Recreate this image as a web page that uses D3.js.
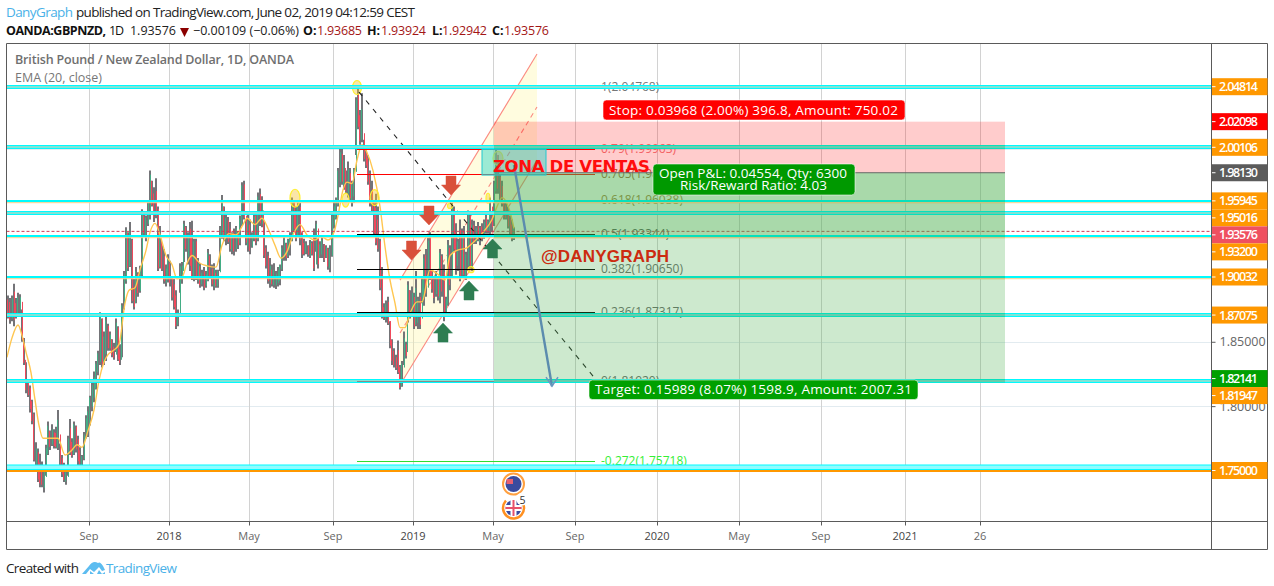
<!DOCTYPE html>
<html><head><meta charset="utf-8">
<script src="https://cdn.jsdelivr.net/npm/d3@7"></script>
<style>html,body{margin:0;background:#fff}svg{display:block}text{font-family:"Open Sans",sans-serif}</style>
</head><body><svg id="c" width="1274" height="586"></svg>
<script>
const highs=[1.886,1.884,1.886,1.895,1.884,1.888,1.887,1.875,1.853,1.834,1.821,1.816,1.805,1.795,1.772,1.767,1.763,1.757,1.753,1.770,1.788,
1.781,1.786,1.782,1.784,1.797,1.771,1.762,1.756,1.752,1.777,1.790,1.775,1.788,1.785,1.777,1.768,1.762,1.780,1.793,
1.800,1.808,1.819,1.827,1.835,1.843,1.873,1.868,1.858,1.871,1.864,1.858,1.852,1.849,1.868,1.862,1.848,1.880,1.905,1.939,
1.935,1.943,1.930,1.899,1.908,1.904,1.909,1.953,1.950,1.948,1.960,1.983,1.975,1.970,1.977,1.955,1.940,1.925,1.922,1.910,
1.918,1.913,1.900,1.899,1.890,1.875,1.911,1.912,1.944,1.940,1.935,1.943,1.944,1.930,1.930,1.915,1.911,1.906,1.908,1.905,
1.922,1.918,1.910,1.911,1.906,1.906,1.940,1.964,1.955,1.950,1.947,1.943,1.935,1.938,1.940,1.936,1.948,1.974,1.975,1.945,
1.950,1.945,1.935,1.949,1.950,1.966,1.969,1.963,1.943,1.925,1.920,1.915,1.910,1.911,1.905,1.908,1.910,1.925,1.932,1.927,
1.930,1.935,1.962,1.960,1.955,1.960,1.958,1.935,1.930,1.928,1.925,1.929,1.928,1.938,1.944,1.930,1.928,1.932,1.926,1.925,
1.923,1.925,1.950,1.960,1.962,1.985,2.002,2.000,1.995,1.983,1.990,1.985,1.975,1.985,2.040,2.048,2.030,2.043,2.007,2.002,
1.995,1.983,1.975,1.960,1.965,1.955,1.930,1.908,1.880,1.882,1.885,1.866,1.852,1.845,1.840,1.851,1.832,1.835,1.858,1.850,
1.897,1.890,1.893,1.888,1.905,1.885,1.888,1.900,1.918,1.922,1.931,1.935,1.905,1.900,1.905,1.900,1.922,1.918,1.910,1.885,
1.929,1.925,1.958,1.955,1.942,1.930,1.945,1.938,1.940,1.920,1.952,1.950,1.945,1.944,1.940,1.943,1.940,1.942,1.945,1.950,
1.945,1.962,1.950,1.975,2.002,1.995,1.980,1.975,1.960,1.960,1.955,1.948,1.945,1.939];
const lows=[1.868,1.864,1.866,1.862,1.868,1.870,1.872,1.850,1.832,1.810,1.807,1.795,1.786,1.757,1.751,1.741,1.737,1.737,1.733,1.746,1.762,
1.766,1.769,1.767,1.767,1.766,1.752,1.745,1.741,1.739,1.746,1.762,1.760,1.762,1.764,1.754,1.750,1.752,1.758,1.775,
1.776,1.785,1.796,1.803,1.813,1.824,1.832,1.830,1.832,1.835,1.843,1.843,1.838,1.836,1.842,1.835,1.832,1.838,1.875,1.895,
1.905,1.908,1.880,1.875,1.880,1.885,1.888,1.900,1.932,1.928,1.940,1.945,1.955,1.943,1.946,1.905,1.907,1.905,1.895,1.893,
1.896,1.893,1.882,1.875,1.860,1.862,1.888,1.895,1.912,1.920,1.910,1.905,1.898,1.897,1.898,1.895,1.892,1.893,1.890,1.892,
1.897,1.899,1.893,1.890,1.892,1.892,1.905,1.930,1.928,1.925,1.926,1.920,1.918,1.917,1.920,1.922,1.925,1.940,1.945,1.925,
1.920,1.918,1.923,1.928,1.925,1.928,1.940,1.939,1.915,1.907,1.895,1.892,1.893,1.892,1.891,1.893,1.894,1.905,1.913,1.913,
1.915,1.917,1.928,1.935,1.928,1.932,1.925,1.915,1.917,1.918,1.916,1.915,1.917,1.905,1.920,1.907,1.915,1.915,1.912,1.915,
1.906,1.904,1.916,1.938,1.945,1.955,1.970,1.972,1.968,1.965,1.962,1.959,1.955,1.958,1.995,2.015,2.003,2.005,1.990,1.985,
1.972,1.955,1.950,1.932,1.925,1.920,1.890,1.868,1.867,1.865,1.863,1.845,1.832,1.830,1.828,1.825,1.813,1.815,1.832,1.837,
1.865,1.868,1.870,1.860,1.862,1.860,1.860,1.880,1.878,1.885,1.900,1.898,1.888,1.880,1.885,1.882,1.880,1.885,1.866,1.872,
1.878,1.890,1.900,1.920,1.902,1.905,1.897,1.900,1.900,1.898,1.905,1.907,1.905,1.926,1.926,1.928,1.925,1.928,1.930,1.934,
1.934,1.932,1.935,1.940,1.965,1.965,1.958,1.955,1.945,1.945,1.938,1.932,1.928,1.929];
const closes=[1.876,1.871,1.880,1.874,1.872,1.880,1.881,1.853,1.836,1.816,1.811,1.802,1.792,1.760,1.760,1.746,1.745,1.742,1.745,1.764,1.780,
1.772,1.776,1.772,1.770,1.778,1.756,1.750,1.745,1.745,1.772,1.768,1.763,1.783,1.770,1.762,1.755,1.760,1.775,1.787,
1.790,1.805,1.812,1.815,1.830,1.838,1.868,1.835,1.848,1.860,1.848,1.852,1.842,1.840,1.860,1.838,1.836,1.876,1.900,1.934,
1.910,1.928,1.884,1.880,1.900,1.892,1.905,1.945,1.938,1.944,1.956,1.975,1.958,1.952,1.950,1.910,1.930,1.908,1.900,1.902,
1.908,1.900,1.888,1.880,1.865,1.870,1.905,1.905,1.938,1.925,1.930,1.915,1.905,1.925,1.900,1.905,1.897,1.900,1.895,1.898,
1.915,1.902,1.897,1.900,1.895,1.904,1.935,1.955,1.935,1.940,1.930,1.925,1.930,1.925,1.935,1.930,1.942,1.968,1.948,1.930,
1.935,1.925,1.932,1.945,1.930,1.958,1.945,1.952,1.920,1.912,1.900,1.900,1.897,1.898,1.900,1.902,1.908,1.920,1.925,1.918,
1.928,1.930,1.958,1.942,1.933,1.950,1.935,1.922,1.920,1.924,1.920,1.925,1.920,1.910,1.938,1.915,1.922,1.925,1.916,1.922,
1.912,1.918,1.944,1.948,1.958,1.980,1.990,1.978,1.985,1.970,1.975,1.965,1.970,1.982,2.035,2.020,2.010,2.012,1.995,1.990,
1.978,1.960,1.955,1.938,1.930,1.925,1.895,1.872,1.870,1.875,1.866,1.850,1.840,1.835,1.832,1.828,1.816,1.830,1.845,1.842,
1.890,1.875,1.880,1.865,1.872,1.880,1.868,1.895,1.910,1.892,1.925,1.905,1.895,1.890,1.900,1.890,1.915,1.895,1.872,1.880,
1.920,1.900,1.950,1.925,1.915,1.925,1.905,1.930,1.905,1.915,1.945,1.912,1.935,1.930,1.935,1.932,1.936,1.931,1.940,1.938,
1.942,1.955,1.945,1.970,1.995,1.975,1.965,1.960,1.950,1.948,1.942,1.935,1.932,1.93576];

// ---- EMA (20, close) ----
const emaBars=[0,2.5,5.5,7.5,9.5,12,14,16,18,25.5,29,32.5,35,37.5,40.5,43.5,46,48.5,50.5,53,56,59,61,64,66.5,69.5,71.5,74,76.5,79.5,82.5,85,87.5,90,92.5,96.5,100,104.5,107.5,111,114.5,118,120,124,127.5,130.5,134,137,140,143,146.5,150,154,157,160.5,163.5,165.5,168,170,172.5,175,177.5,180,183,186.5,189,191.5,194,196.5,199,201.5,205,207.5,211.5,215,219,221.5,225,230,233,238,242.5,245,247.5,251.5,253.5];
const emaValues=[1.838,1.853,1.863,1.855,1.842,1.826,1.805,1.785,1.775,1.775,1.762,1.766,1.770,1.768,1.781,1.797,1.820,1.834,1.840,1.843,1.848,1.880,1.890,1.892,1.906,1.921,1.935,1.942,1.933,1.917,1.910,1.899,1.900,1.911,1.917,1.911,1.909,1.908,1.925,1.934,1.933,1.941,1.946,1.941,1.946,1.938,1.925,1.915,1.920,1.933,1.941,1.933,1.929,1.932,1.929,1.935,1.948,1.968,1.974,1.973,1.991,2.003,1.997,1.983,1.955,1.924,1.898,1.880,1.861,1.861,1.872,1.881,1.881,1.906,1.903,1.898,1.917,1.921,1.923,1.927,1.935,1.945,1.955,1.962,1.951,1.938];

// ---- time axis ----
const tickBars=[41,81,121,163,203,243,284,325,366,407,449,486.5];
const tickLabels=["Sep","2018","May","Sep","2019","May","Sep","2020","May","Sep","2021","26"];

// ---- horizontal levels ----
const bandLevels=[2.04814,2.00106,1.95016,1.87075,1.8197];
const underLevels=[1.95945,1.932,1.90032];
const floorLevel=1.75;
const lastPrice=1.93576;

// ---- price tags ----
const tagValues=[2.04814,2.02098,2.00106,1.9813,1.95945,1.95016,1.93576,1.932,1.90032,1.87075,1.82141,1.81947,1.75];
const tagTexts=["2.04814","2.02098","2.00106","1.98130","1.95945","1.95016","1.93576","1.93200","1.90032","1.87075","1.82141","1.81947","1.75000"];
const tagFills=["#ff9800","#ff0000","#ff9800","#5b5b5b","#ff9800","#ff9800","#ef5060","#ff9800","#ff9800","#ff9800","#00a000","#ff9800","#ff9800"];
const gridPrices=[1.75,1.8,1.85,1.9,1.95,2.0];
const axisPrices=[1.85,1.8];

// ---- fibonacci ----
const fibValues=[2.04768,1.99963,1.98028,1.96038,1.93344,1.9065,1.87317,1.8192,1.75718];
const fibTexts=["1(2.04768)","0.79(1.99963)","0.705(1.98028)","0.618(1.96038)","0.5(1.93344)","0.382(1.90650)","0.236(1.87317)","0(1.81920)","-0.272(1.75718)"];
const fibLine=["none","#ff0000","#ff0000","none","#000000","#000000","#000000","#8a8a8a","#2fdc2f"];
const fibText=["#777","#f0787a","#a5683a","#a87a3a","#555","#6a6a6a","#6a6a6a","#6a6a6a","#35ee35"];
const fibFrom=175, fibTo=294;

// ---- drawings (bar, price) ----
const channelBars=[196.5,265];
const channelUpper=[1.8979,2.0735], channelMiddle=[1.8568,2.0324], channelLower=[1.8164,1.9912];
const trendBars=[176,294], trendPrices=[2.044,1.8215];
const arrowLineBars=[253.5,272.5], arrowLinePrices=[1.9873,1.8155];
const zoneBars=[237.5,269.5], zonePrices=[1.99945,1.9795];
const posBars=[243.5,499], stopPrice=2.02098, entryPrice=1.9813, targetPrice=1.82141;
const downBars=[222,211,202.25], downPrices=[1.9640,1.9407,1.9135];
const upBars=[242.75,231,218], upPrices=[1.9298,1.8972,1.8645];
const circleBars=[175,144,169.3,183.8,245.5,221.5,240.5,232], circlePrices=[2.0475,1.9615,1.9600,1.9620,1.9925,1.9555,1.9615,1.9060];
const circleRx=[4.5,5,3.5,4.5,5,2.5,2,3], circleRy=[7,9,7,8,7,2.5,5,3];

const svg=d3.select("#c");
const L=6.5,R=1211.5,T=43.5,B=521.5,OUT=1267.5,BOT=549.5;
const x=d3.scaleLinear().domain([0,499]).range([7,1005]);
const y=d3.scaleLinear().domain([2.04814,1.75]).range([86.7,470.5]);
function T_(g,px,py,s,o={}){const t=g.append("text").attr("x",px).attr("y",py).text(s)
  .attr("font-size",o.size||12).attr("fill",o.fill||"#222").attr("font-weight",o.weight||400);
  if(o.len)t.attr("textLength",o.len);if(o.anchor)t.attr("text-anchor",o.anchor);if(o.family)t.style("font-family",o.family);return t;}

// defs / clip
const defs=svg.append("defs");
defs.append("clipPath").attr("id","plot").append("rect").attr("x",L).attr("y",T).attr("width",R-L).attr("height",B-T);
const plot=svg.append("g").attr("clip-path","url(#plot)");

// grids
plot.append("g").selectAll("line").data(gridPrices).join("line").attr("x1",L).attr("x2",R).attr("y1",d=>Math.round(y(d))+.5).attr("y2",d=>Math.round(y(d))+.5).attr("stroke","#e2ebf0");
plot.append("g").selectAll("line").data(tickBars).join("line").attr("x1",d=>Math.round(x(d))+.5).attr("x2",d=>Math.round(x(d))+.5).attr("y1",T).attr("y2",B).attr("stroke","#d2d2d2");

// channel
plot.append("path").attr("fill","#fff59d").attr("fill-opacity",.33)
 .attr("d",d3.line()([[x(channelBars[0]),y(channelUpper[0])],[x(channelBars[1]),y(channelUpper[1])],[x(channelBars[1]),y(channelLower[1])],[x(channelBars[0]),y(channelLower[0])]]));
[[channelUpper,null],[channelMiddle,"5,4"],[channelLower,null]].forEach(([p,dash])=>{
 plot.append("line").attr("x1",x(channelBars[0])).attr("x2",x(channelBars[1])).attr("y1",y(p[0])).attr("y2",y(p[1]))
  .attr("stroke","#fb8a80").attr("stroke-width",1.1).attr("stroke-dasharray",dash);
});

// fib text under everything
fibValues.forEach((v,i)=>T_(plot,601,y(v)+4,fibTexts[i],{fill:fibText[i],size:12}));

// candles: grey 2px column, 1px coloured column; the colour reaches part way along the wick
const bars=d3.range(highs.length);
const openOf=i=>i?closes[i-1]:closes[0]+.002;
const reach=.6;
plot.append("g").selectAll("line").data(bars).join("line")
 .attr("x1",i=>x(i)+1).attr("x2",i=>x(i)+1).attr("y1",i=>y(highs[i])).attr("y2",i=>y(lows[i]))
 .attr("stroke","#747478").attr("stroke-width",2);
plot.append("g").selectAll("line").data(bars).join("line")
 .attr("x1",i=>x(i)+(i%4<2?.5:1.5)).attr("x2",i=>x(i)+(i%4<2?.5:1.5))
 .attr("y1",i=>{const t=Math.max(openOf(i),closes[i]);return y(t+reach*Math.max(0,highs[i]-t));})
 .attr("y2",i=>{const b=Math.min(openOf(i),closes[i]);return y(b-reach*Math.max(0,b-lows[i]));})
 .attr("stroke",i=>closes[i]>=openOf(i)?"#43ad85":"#f0495c").attr("stroke-width",1);

// EMA
plot.append("path").datum(d3.range(emaBars.length)).attr("fill","none").attr("stroke","#ffc650").attr("stroke-width",1.4)
 .attr("d",d3.line().x(i=>x(emaBars[i])).y(i=>y(emaValues[i])).curve(d3.curveMonotoneX));

// yellow circles
plot.append("g").selectAll("ellipse").data(circleBars).join("ellipse")
 .attr("cx",d=>x(d)).attr("cy",(d,i)=>y(circlePrices[i])).attr("rx",(d,i)=>circleRx[i]).attr("ry",(d,i)=>circleRy[i])
 .attr("fill","#f3c030").attr("fill-opacity",.42).attr("stroke","#fff030").attr("stroke-width",1.2);

// dashed trend line
plot.append("line").attr("x1",x(trendBars[0])).attr("x2",x(trendBars[1])).attr("y1",y(trendPrices[0])).attr("y2",y(trendPrices[1]))
 .attr("stroke","#222").attr("stroke-width",1.1).attr("stroke-dasharray","5,6");

// levels
function drawBands(g,edge,inner,orange,floorFill){
 bandLevels.forEach(v=>{const c=Math.round(y(v));
  g.append("rect").attr("x",L).attr("width",R-L).attr("y",c-2).attr("height",4).attr("fill",edge);
  g.append("rect").attr("x",L).attr("width",R-L).attr("y",c-.8).attr("height",1.6).attr("fill",inner);
 });
 underLevels.forEach(v=>{const c=Math.round(y(v));
  g.append("rect").attr("x",L).attr("width",R-L).attr("y",c-1).attr("height",2.2).attr("fill",edge);
  g.append("rect").attr("x",L).attr("width",R-L).attr("y",c+1.2).attr("height",1).attr("fill",orange);
 });
 {const c=y(floorLevel);
  g.append("rect").attr("x",L).attr("width",R-L).attr("y",c-5.5).attr("height",4.5).attr("fill",floorFill).attr("stroke",edge).attr("stroke-width",1);
  g.append("rect").attr("x",L).attr("width",R-L).attr("y",c-.5).attr("height",2).attr("fill","#ff9800");
 }
}
drawBands(plot.append("g"),"#00fbff","#a2dccc","#ffd08a","#8ffcff");

// fib lines above bands
plot.append("g").selectAll("line").data(fibValues.filter((d,i)=>fibLine[i]!=="none")).join("line")
 .attr("x1",x(fibFrom)).attr("x2",x(fibTo)).attr("y1",d=>Math.round(y(d))+.5).attr("y2",d=>Math.round(y(d))+.5)
 .attr("stroke",d=>fibLine[fibValues.indexOf(d)]).attr("stroke-width",1);

// last price dotted
plot.append("line").attr("x1",L).attr("x2",R).attr("y1",y(lastPrice)).attr("y2",y(lastPrice)).attr("stroke","#d23a55").attr("stroke-dasharray","3,2");

// position zones
const px0=x(posBars[0]),pw=x(posBars[1])-px0;
plot.append("rect").attr("x",px0).attr("width",pw).attr("y",y(stopPrice)).attr("height",y(entryPrice)-y(stopPrice)).attr("fill","#ff0000").attr("fill-opacity",.2);
plot.append("rect").attr("x",px0).attr("width",pw).attr("y",y(entryPrice)).attr("height",y(targetPrice)+2.5-y(entryPrice)).attr("fill","#4caf50").attr("fill-opacity",.28);
plot.append("rect").attr("x",px0).attr("width",pw).attr("y",y(entryPrice)).attr("height",y(1.932)-y(entryPrice)).attr("fill","#4caf50").attr("fill-opacity",.28);
plot.append("line").attr("x1",px0).attr("x2",px0+pw).attr("y1",y(entryPrice)).attr("y2",y(entryPrice)).attr("stroke","#666");
// bands inside the position keep a saturated teal
defs.append("clipPath").attr("id","pos").append("rect").attr("x",px0).attr("y",y(stopPrice)).attr("width",pw).attr("height",y(targetPrice)+4-y(stopPrice));
drawBands(plot.append("g").attr("clip-path","url(#pos)"),"#08e0bc","#7fc8a8","#d9c37a","#8ffcff");

// sell zone
plot.append("rect").attr("x",x(zoneBars[0])).attr("width",x(zoneBars[1])-x(zoneBars[0])).attr("y",y(zonePrices[0])).attr("height",y(zonePrices[1])-y(zonePrices[0]))
 .attr("fill","#30d8c8").attr("fill-opacity",.48).attr("stroke","#20c8d0");

// block arrows
function blockArrow(cx,tip,dir,fill){const w=9.5,h=19,hh=10,s=5;
 const p=[[0,0],[w,dir*hh],[s,dir*hh],[s,dir*h],[-s,dir*h],[-s,dir*hh],[-w,dir*hh]].map(q=>[cx+q[0],tip+q[1]]);
 plot.append("path").attr("d",d3.line()(p)+"Z").attr("fill",fill).attr("stroke",fill).attr("stroke-width",.5);}
downBars.forEach((b,i)=>blockArrow(x(b),y(downPrices[i]),-1,"#d9503a"));
upBars.forEach((b,i)=>blockArrow(x(b),y(upPrices[i]),1,"#2e7d52"));

// forecast arrow
plot.append("line").attr("x1",x(arrowLineBars[0])).attr("x2",x(arrowLineBars[1])).attr("y1",y(arrowLinePrices[0])).attr("y2",y(arrowLinePrices[1]))
 .attr("stroke","#5b8cae").attr("stroke-width",2.4);
{const ax=x(arrowLineBars[1]),ay=y(arrowLinePrices[1]);
 plot.append("path").attr("d",`M${ax-6} ${ay-9}L${ax} ${ay}L${ax+6} ${ay-9}`).attr("fill","none").attr("stroke","#6a96c0").attr("stroke-width",1.5);}

// text annotations
T_(plot,493,172,"ZONA DE VENTAS",{size:16.5,weight:700,fill:"#ff0d0d",len:157,family:"'DejaVu Sans',sans-serif"});
T_(plot,541,262,"@DANYGRAPH",{size:17,weight:700,fill:"#cc2b10",len:128,family:"'Liberation Sans',sans-serif"});

// info boxes
function box(x0,y0,w,h,fill){plot.append("rect").attr("x",x0).attr("y",y0).attr("width",w).attr("height",h).attr("rx",3.5).attr("fill",fill).attr("stroke","#fff").attr("stroke-opacity",.7).attr("stroke-width",.8);}
box(603,100,302,20,"#ff0000");
T_(plot,609,115,"Stop: 0.03968 (2.00%) 396.8, Amount: 750.02",{size:13.5,fill:"#fff",len:289});
box(653,164,202,31,"#009900");
T_(plot,659,178,"Open P&L: 0.04554, Qty: 6300",{size:13.5,fill:"#fff",len:188});
T_(plot,680,190,"Risk/Reward Ratio: 4.03",{size:13.5,fill:"#fff",len:147});
box(589,380,329,19.5,"#00a000");
T_(plot,595,394,"Target: 0.15989 (8.07%) 1598.9, Amount: 2007.31",{size:13.5,fill:"#fff",len:317});

// title inside pane
T_(svg,15,64,"British Pound / New Zealand Dollar, 1D, OANDA",{size:12.5,weight:600,fill:"#6f6f6f",len:279});
T_(svg,15,82,"EMA (20, close)",{size:12.5,fill:"#777",len:87});

// event flags
const flagBar=253.5;
{const fx=x(flagBar)-.5;
 const f=svg.append("g");
 f.append("circle").attr("cx",fx).attr("cy",484).attr("r",10.5).attr("fill","#fff").attr("stroke","#ffa040").attr("stroke-width",2);
 f.append("circle").attr("cx",fx).attr("cy",484).attr("r",8).attr("fill","#3a4b9e");
 f.append("rect").attr("x",fx-7).attr("y",479).attr("width",6.5).attr("height",5).attr("fill","#e86070");
 f.append("circle").attr("cx",fx).attr("cy",508).attr("r",10.5).attr("fill","#fff").attr("stroke","#ff9020").attr("stroke-width",2.5).attr("stroke-dasharray","50,16").attr("transform",`rotate(-50 ${fx} 508)`);
 f.append("circle").attr("cx",fx).attr("cy",508).attr("r",8).attr("fill","#3a4b9e");
 f.append("rect").attr("x",fx-8).attr("y",505).attr("width",16).attr("height",6).attr("fill","#fff");
 f.append("rect").attr("x",fx-3).attr("y",500).attr("width",6).attr("height",16).attr("fill","#fff");
 f.append("rect").attr("x",fx-8).attr("y",507).attr("width",16).attr("height",2).attr("fill","#e8506a");
 f.append("rect").attr("x",fx-1).attr("y",500).attr("width",2).attr("height",16).attr("fill","#e8506a");
 f.append("circle").attr("cx",fx+9).attr("cy",499).attr("r",6.5).attr("fill","#fff");
 T_(f,fx+9,504,"5",{size:10.5,fill:"#333",anchor:"middle"});
}

// frame
const fr=svg.append("g").attr("fill","none").attr("stroke","#5a5a5a");
fr.append("path").attr("d",`M${L} ${T}H${OUT}V${BOT}H${L}Z M${L} ${B}H${OUT} M${R} ${T}V${BOT}`);

// x axis
const xa=svg.append("g").attr("transform",`translate(0,${B})`);
xa.selectAll("line").data(tickBars).join("line").attr("x1",d=>Math.round(x(d))+.5).attr("x2",d=>Math.round(x(d))+.5).attr("y1",0).attr("y2",4).attr("stroke","#5a5a5a");
tickLabels.forEach((s,i)=>T_(xa,x(tickBars[i]),18,s,{anchor:"middle",size:11,fill:/^\d{4}$/.test(s)?"#444":"#666"}));

// y axis
const ya=d3.axisRight(y).tickValues(axisPrices).tickFormat(d3.format(".5f")).tickSize(4).tickPadding(4);
const yg=svg.append("g").attr("transform",`translate(${R},0)`).call(ya);
yg.select(".domain").remove();
yg.selectAll("line").attr("stroke","#5a5a5a");
yg.selectAll("text").attr("font-size",12.5).attr("fill","#666").style("font-family","'Open Sans',sans-serif");

// price tags, pushed down where they would collide
let lastY=-1e3;
const tagYs=tagValues.map(v=>{const c=Math.max(y(v),lastY+17);lastY=c;return c;});
tagValues.forEach((v,i)=>{const c=tagYs[i];
 svg.append("rect").attr("x",R+.5).attr("y",c-8.5).attr("width",OUT-R-.5).attr("height",17).attr("fill",tagFills[i]);
 svg.append("line").attr("x1",R+.5).attr("x2",R+4).attr("y1",c).attr("y2",c).attr("stroke","#fff");
 T_(svg,1219,c+4.5,tagTexts[i],{size:12.5,weight:600,fill:"#fff",len:39});
});

// header
T_(svg,6,17,"DanyGraph",{size:13.5,fill:"#4ab1e8",len:67});
T_(svg,76,17,"published on TradingView.com, June 02, 2019 04:12:59 CEST",{size:13.5,fill:"#222",len:339});
T_(svg,6,35,"OANDA:GBPNZD,",{size:12.5,weight:700,fill:"#111",len:100});
T_(svg,109,35,"1D",{size:12.5,fill:"#111",len:15});
T_(svg,130,35,"1.93576",{size:12.5,fill:"#222",len:46});
svg.append("path").attr("d",d3.line()([[180,28],[189,28],[184.5,37]])+"Z").attr("fill","#8b0000");
T_(svg,193,35,"\u22120.00109 (\u22120.06%)",{size:12.5,fill:"#222",len:106});
[["O:",303,"1.93685",317],["H:",367,"1.93924",381],["L:",432,"1.92942",442],["C:",492,"1.93576",504]].forEach(a=>{
 T_(svg,a[1],35,a[0],{size:12.5,weight:700,fill:"#111"});
 T_(svg,a[3],35,a[2],{size:12.5,fill:"#a31515",len:45});
});

// footer
T_(svg,6,573,"Created with",{size:13.5,fill:"#222",len:73});
svg.append("path").attr("d","M82 574 L89 566 Q93 560 98 563 Q100 561 103 566 L105 570 L102 571 L99 567 L94 572 L90 569 L86 574 Z").attr("fill","#5cbcf0");
svg.append("path").attr("d","M90 574 L94 574 L90 571 Z M97 574 L105 574 L105 572 L102 574 L99 570 Z").attr("fill","#5cbcf0");
T_(svg,106,573,"TradingView",{size:13.5,fill:"#4ab1e8",len:71});
</script></body></html>
